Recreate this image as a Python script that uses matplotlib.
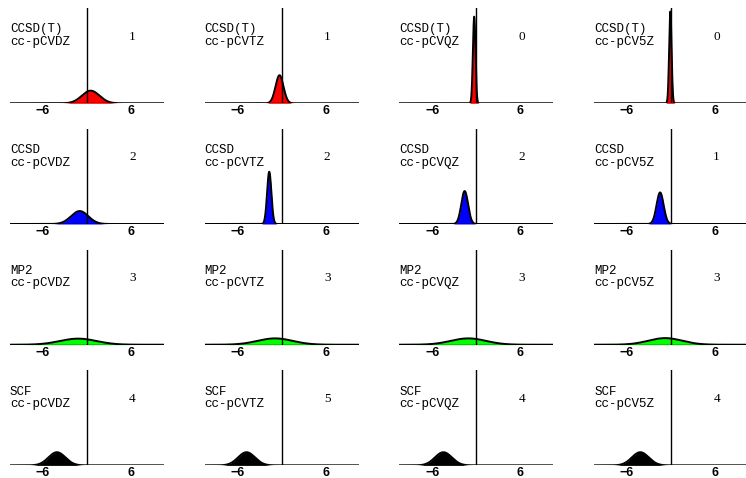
import numpy as np
import matplotlib
matplotlib.use("Agg")
from matplotlib import pyplot as plt

# rows: methods, columns: basis sets
methods = ["CCSD(T)", "CCSD", "MP2", "SCF"]
bases = ["cc-pCVDZ", "cc-pCVTZ", "cc-pCVQZ", "cc-pCV5Z"]
colors = ["#ff0000", "#0000ff", "#00ff00", "#000000"]

# mean error and standard deviation of each panel's normal curve
means = [
    [0.5, -0.3, -0.3, -0.1],
    [-1.0, -1.7, -1.6, -1.5],
    [-1.2, -0.9, -1.1, -0.8],
    [-4.1, -4.8, -4.5, -4.2],
]
sds = [
    [1.2, 0.54, 0.175, 0.165],
    [1.17, 0.29, 0.46, 0.48],
    [2.5, 2.4, 2.4, 2.3],
    [1.15, 1.15, 1.15, 1.15],
]
counts = [
    [1, 1, 0, 0],
    [2, 2, 2, 1],
    [3, 3, 3, 3],
    [4, 5, 4, 4],
]
ticks = [-6, 6]
tick_labels = ["\u22126", "6"]

W, H = 746, 478
fig = plt.figure(figsize=(W / 100, H / 100), dpi=100)

x = np.linspace(-10.5, 10.5, 800)

for r in range(4):
    for c in range(4):
        left = 10 + 194.7 * c
        zero_y = 103.3 + 120.7 * r
        ax = fig.add_axes([left / W, (H - zero_y) / H, 154 / W, 95 / H])
        m, s = means[r][c], sds[r][c]
        y = np.exp(-0.5 * ((x - m) / s) ** 2) / (s * np.sqrt(2 * np.pi))
        ax.fill_between(x, 0, y, color=colors[r], lw=0, zorder=2)
        ax.plot(x, y, color="black", lw=1.4, zorder=3)
        ax.axhline(0, color="black", lw=1.0, zorder=4)
        ax.axvline(0, color="black", lw=1.0, zorder=4)
        ax.set_xlim(-10.5, 10.5)
        ax.set_ylim(0, 2.5)
        for sp in ax.spines.values():
            sp.set_visible(False)
        ax.set_yticks([])
        ax.set_xticks(ticks)
        ax.set_xticklabels(tick_labels, fontfamily="Liberation Sans",
                           fontweight="bold", fontsize=9)
        ax.tick_params(axis="x", length=0, pad=1.5)
        ax.text(-10.5, 1.78, methods[r] + "\n" + bases[c], ha="left", va="center",
                fontfamily="Liberation Mono", fontsize=9, linespacing=1.05)
        ax.text(6.2, 1.75, str(counts[r][c]), ha="center", va="center",
                fontfamily="Liberation Serif", fontsize=9.5)

fig.savefig("out.png", dpi=100)
